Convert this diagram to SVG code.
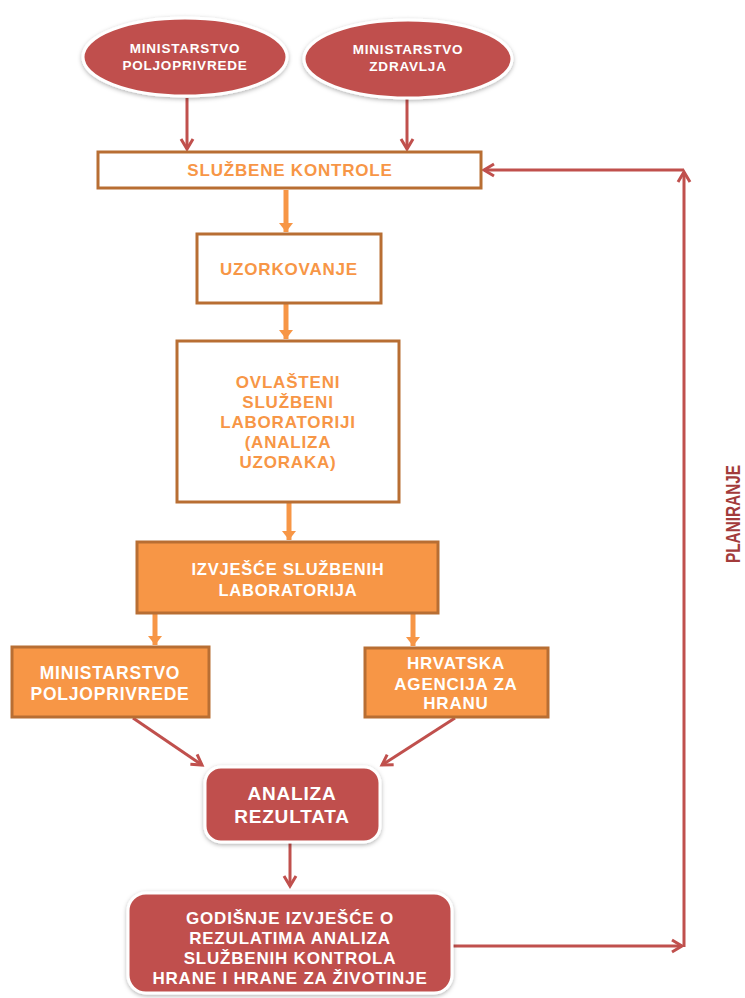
<svg xmlns="http://www.w3.org/2000/svg" width="745" height="998" viewBox="0 0 745 998">
<defs>
<style>
.t{font-family:"Liberation Sans",Arial,sans-serif;font-weight:bold;text-anchor:middle;dominant-baseline:central;letter-spacing:0.8px}
.or{fill:#f79646}
.wh{fill:#ffffff}
.obox{fill:#ffffff;stroke:#b86e33;stroke-width:3}
.fbox{fill:#f79646;stroke:#b86e33;stroke-width:3}
.red{fill:#c0504d;stroke:#ffffff;stroke-width:3;filter:url(#sh)}
.rl{stroke:#c0504d;stroke-width:3;fill:none;marker-end:url(#ra)}
.ol{stroke:#f79646;stroke-width:5;fill:none;marker-end:url(#oa)}
</style>
<filter id="sh" x="-10%" y="-10%" width="120%" height="130%">
<feDropShadow dx="0" dy="1.5" stdDeviation="2" flood-color="#000000" flood-opacity="0.3"/>
</filter>
<marker id="ra" markerUnits="userSpaceOnUse" markerWidth="20" markerHeight="20" viewBox="-14 -10 18 20" refX="0" refY="0" orient="auto">
<path d="M-10,-6 L0,0 L-10,6" fill="none" stroke="#c0504d" stroke-width="3"/>
</marker>
<marker id="oa" markerUnits="userSpaceOnUse" markerWidth="20" markerHeight="20" viewBox="-14 -10 18 20" refX="0" refY="0" orient="auto">
<path d="M-9,-7 L0,0 L-9,7 z" fill="#f79646"/>
</marker>
</defs>
<rect width="745" height="998" fill="#ffffff"/>

<g id="connectors">
<line class="rl" x1="187" y1="98" x2="187" y2="149"/>
<line class="rl" x1="407" y1="99" x2="407" y2="149"/>
<line class="ol" x1="286" y1="190" x2="286" y2="232"/>
<line class="ol" x1="286" y1="304" x2="286" y2="339"/>
<line class="ol" x1="289" y1="503" x2="289" y2="540"/>
<line class="ol" x1="155" y1="614" x2="155" y2="645"/>
<line class="ol" x1="413" y1="614" x2="413" y2="646"/>
<line class="rl" x1="133" y1="718" x2="202" y2="765"/>
<line class="rl" x1="455" y1="718" x2="382" y2="765"/>
<line class="rl" x1="290" y1="843" x2="290" y2="886"/>
<line class="rl" x1="453" y1="946" x2="682" y2="946"/>
<line class="rl" x1="684" y1="947" x2="684" y2="172"/>
<line class="rl" x1="684" y1="170" x2="484" y2="170"/>
<path d="M278,186 L285,184 L287,180" fill="none" stroke="#4f81bd" stroke-width="1"/>
</g>

<g id="n-min-polj">
<ellipse class="red" cx="185" cy="57" rx="102" ry="39"/>
<text class="t wh" font-size="13.5"><tspan x="185" y="48">MINISTARSTVO</tspan><tspan x="185" y="65">POLJOPRIVREDE</tspan></text>
</g>
<g id="n-min-zdr">
<ellipse class="red" cx="408" cy="59" rx="104" ry="39"/>
<text class="t wh" font-size="13.5"><tspan x="408" y="49">MINISTARSTVO</tspan><tspan x="408" y="66">ZDRAVLJA</tspan></text>
</g>
<g id="n-kontrole">
<rect class="obox" x="98" y="152" width="383" height="36"/>
<text class="t or" x="290" y="170" font-size="17">SLUŽBENE KONTROLE</text>
</g>
<g id="n-uzorkovanje">
<rect class="obox" x="197" y="234" width="184" height="69"/>
<text class="t or" x="289" y="269" font-size="17">UZORKOVANJE</text>
</g>
<g id="n-laboratoriji">
<rect class="obox" x="177" y="341" width="222" height="161"/>
<text class="t or" font-size="17"><tspan x="288" y="382">OVLAŠTENI</tspan><tspan x="288" y="402">SLUŽBENI</tspan><tspan x="288" y="422">LABORATORIJI</tspan><tspan x="288" y="442">(ANALIZA</tspan><tspan x="288" y="462">UZORAKA)</tspan></text>
</g>
<g id="n-izvjesce">
<rect class="fbox" x="137" y="542" width="301" height="71"/>
<text class="t wh" font-size="16.5"><tspan x="288" y="569">IZVJEŠĆE SLUŽBENIH</tspan><tspan x="288" y="590">LABORATORIJA</tspan></text>
</g>
<g id="n-min-polj-2">
<rect class="fbox" x="12" y="647" width="197" height="70"/>
<text class="t wh" font-size="17.5"><tspan x="110" y="673">MINISTARSTVO</tspan><tspan x="110" y="694">POLJOPRIVREDE</tspan></text>
</g>
<g id="n-hah">
<rect class="fbox" x="365" y="648" width="183" height="69"/>
<text class="t wh" font-size="17"><tspan x="456" y="663">HRVATSKA</tspan><tspan x="456" y="684">AGENCIJA ZA</tspan><tspan x="456" y="703">HRANU</tspan></text>
</g>
<g id="n-analiza">
<rect class="red" x="205" y="767" width="175" height="75" rx="16"/>
<text class="t wh" font-size="19"><tspan x="292" y="793">ANALIZA</tspan><tspan x="292" y="816">REZULTATA</tspan></text>
</g>
<g id="n-godisnje">
<rect class="red" x="128" y="893" width="324" height="100" rx="18"/>
<text class="t wh" font-size="17"><tspan x="290" y="918">GODIŠNJE IZVJEŠĆE O</tspan><tspan x="290" y="938">REZULATIMA ANALIZA</tspan><tspan x="290" y="958">SLUŽBENIH KONTROLA</tspan><tspan x="290" y="978">HRANE I HRANE ZA ŽIVOTINJE</tspan></text>
</g>
<g id="planiranje">
<text transform="translate(740,514) rotate(-90)" x="0" y="0" font-family="'Liberation Sans',Arial,sans-serif" font-size="20" font-weight="bold" fill="#a33b3b" text-anchor="middle" textLength="98" lengthAdjust="spacingAndGlyphs">PLANIRANJE</text>
</g>
</svg>
